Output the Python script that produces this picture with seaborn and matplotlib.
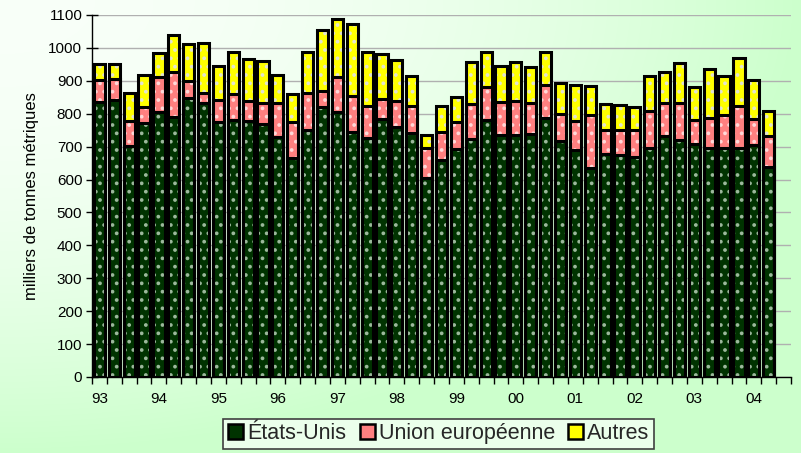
import numpy as np
import pandas as pd
import matplotlib
matplotlib.use("Agg")
import matplotlib.pyplot as plt
import seaborn as sns
from matplotlib.patches import Patch

# Quarterly imports, thousands of metric tonnes, 1993 Q1 - 2004 Q2
annees = ["93", "94", "95", "96", "97", "98", "99", "00", "01", "02", "03", "04"]
trimestres = [f"{a}-T{q}" for a in annees for q in range(1, 5)][:46]

etats_unis = [837, 842, 702, 771, 806, 791, 849, 832, 776, 781, 779, 769,
              728, 665, 751, 820, 806, 743, 726, 784, 761, 741, 604, 659,
              693, 723, 781, 736, 736, 739, 786, 717, 690, 634, 679, 676,
              667, 696, 733, 720, 708, 695, 695, 695, 705, 639]
union_europeenne = [65, 65, 77, 48, 105, 137, 51, 32, 66, 78, 60, 63,
                    106, 111, 113, 50, 105, 112, 96, 61, 79, 83, 93, 86,
                    83, 106, 101, 101, 104, 93, 101, 82, 89, 162, 73, 76,
                    83, 111, 101, 112, 73, 91, 101, 128, 79, 93]
autres = [48, 43, 85, 99, 74, 110, 112, 150, 104, 130, 126, 129,
          84, 83, 125, 184, 177, 218, 165, 137, 123, 91, 38, 78,
          75, 129, 107, 108, 118, 111, 100, 93, 108, 89, 77, 76,
          71, 108, 94, 121, 101, 149, 120, 146, 119, 77]

series = ["États-Unis", "Union européenne", "Autres"]
couleurs = ["#003300", "#ff8080", "#ffff00"]
points = ["#9cb89c", "#ffd8d8", "#e4e4d0"]
motifs = ["..", "..", ".."]

df = pd.DataFrame({"trimestre": trimestres, "eu": etats_unis,
                   "ue": union_europeenne, "autres": autres})
df["niv1"] = df["eu"]
df["niv2"] = df["eu"] + df["ue"]
df["niv3"] = df["niv2"] + df["autres"]

sns.set_theme(style="white")
plt.rcParams["font.family"] = ["Liberation Sans", "DejaVu Sans"]
plt.rcParams["hatch.linewidth"] = 1.5

W, H = 801, 453
fig = plt.figure(figsize=(W / 100, H / 100), dpi=100)

# soft corner gradient behind everything
bg = fig.add_axes([0, 0, 1, 1], zorder=0)
yy, xx = np.mgrid[0:H, 0:W]
t = np.clip((xx / W) ** 2 + (yy / H) ** 2, 0, 1)
c0 = np.array([0.975, 1.0, 0.975])
c1 = np.array([0.80, 1.0, 0.80])
bg.imshow(c0 + (c1 - c0) * t[..., None], aspect="auto", extent=[0, 1, 0, 1])
bg.axis("off")

ax = fig.add_axes([92 / W, 1 - 377 / H, (791 - 92) / W, (377 - 15) / H], zorder=1)
ax.patch.set_alpha(0)

ax.set_ylim(0, 1100)
ax.set_yticks(range(0, 1101, 100))
ax.yaxis.grid(True, color="#b0b0b0", linewidth=1)
ax.set_axisbelow(True)

# stacked bars drawn back to front as cumulative heights
for col, fc, pc, hatch in zip(["niv3", "niv2", "niv1"], couleurs[::-1], points[::-1], motifs[::-1]):
    n0 = len(ax.patches)
    sns.barplot(data=df, x="trimestre", y=col, order=trimestres, color=fc,
                saturation=1, width=0.75, errorbar=None, ax=ax)
    for p in ax.patches[n0:]:
        p.set_facecolor(fc)
        p.set_edgecolor(pc)
        p.set_linewidth(0)
        p.set_hatch(hatch)
    n0 = len(ax.patches)
    sns.barplot(data=df, x="trimestre", y=col, order=trimestres, color="black",
                fill=False, width=0.75, errorbar=None, ax=ax)
    for p in ax.patches[n0:]:
        p.set_facecolor("none")
        p.set_edgecolor("black")
        p.set_linewidth(2.2)

ax.set_xlim(-0.5, 46.5)
ax.set_xticks(range(0, 46, 4))
ax.set_xticklabels(annees)
ax.set_xticks(np.arange(-0.5, 47, 1), minor=True)
ax.tick_params(axis="x", which="major", length=0, pad=11, labelsize=11, colors="black")
ax.tick_params(axis="x", which="minor", length=5, direction="out", width=1, color="black", bottom=True)
ax.tick_params(axis="y", which="major", length=8, direction="inout", width=1,
               color="black", left=True, labelsize=11, labelcolor="black", pad=3)
ax.set_xlabel("")
ax.set_ylabel("milliers de tonnes métriques", fontsize=12, color="black", labelpad=7)

for s in ["top", "right"]:
    ax.spines[s].set_visible(False)
for s in ["left", "bottom"]:
    ax.spines[s].set_color("black")
    ax.spines[s].set_linewidth(1)

handles = [Patch(facecolor=c, edgecolor="black", linewidth=1.8) for c in couleurs]
leg = fig.legend(handles, series, loc="center", bbox_to_anchor=(0.548, 0.0425),
                 bbox_transform=fig.transFigure, ncol=3, fontsize=15.5,
                 frameon=True, fancybox=False, framealpha=1, edgecolor="#404040",
                 facecolor="#ebffeb", handlelength=0.7, handleheight=0.7,
                 handletextpad=0.2, columnspacing=0.6, borderpad=0.22, borderaxespad=0)
leg.get_frame().set_linewidth(1.2)

fig.savefig("out.png", dpi=100)
